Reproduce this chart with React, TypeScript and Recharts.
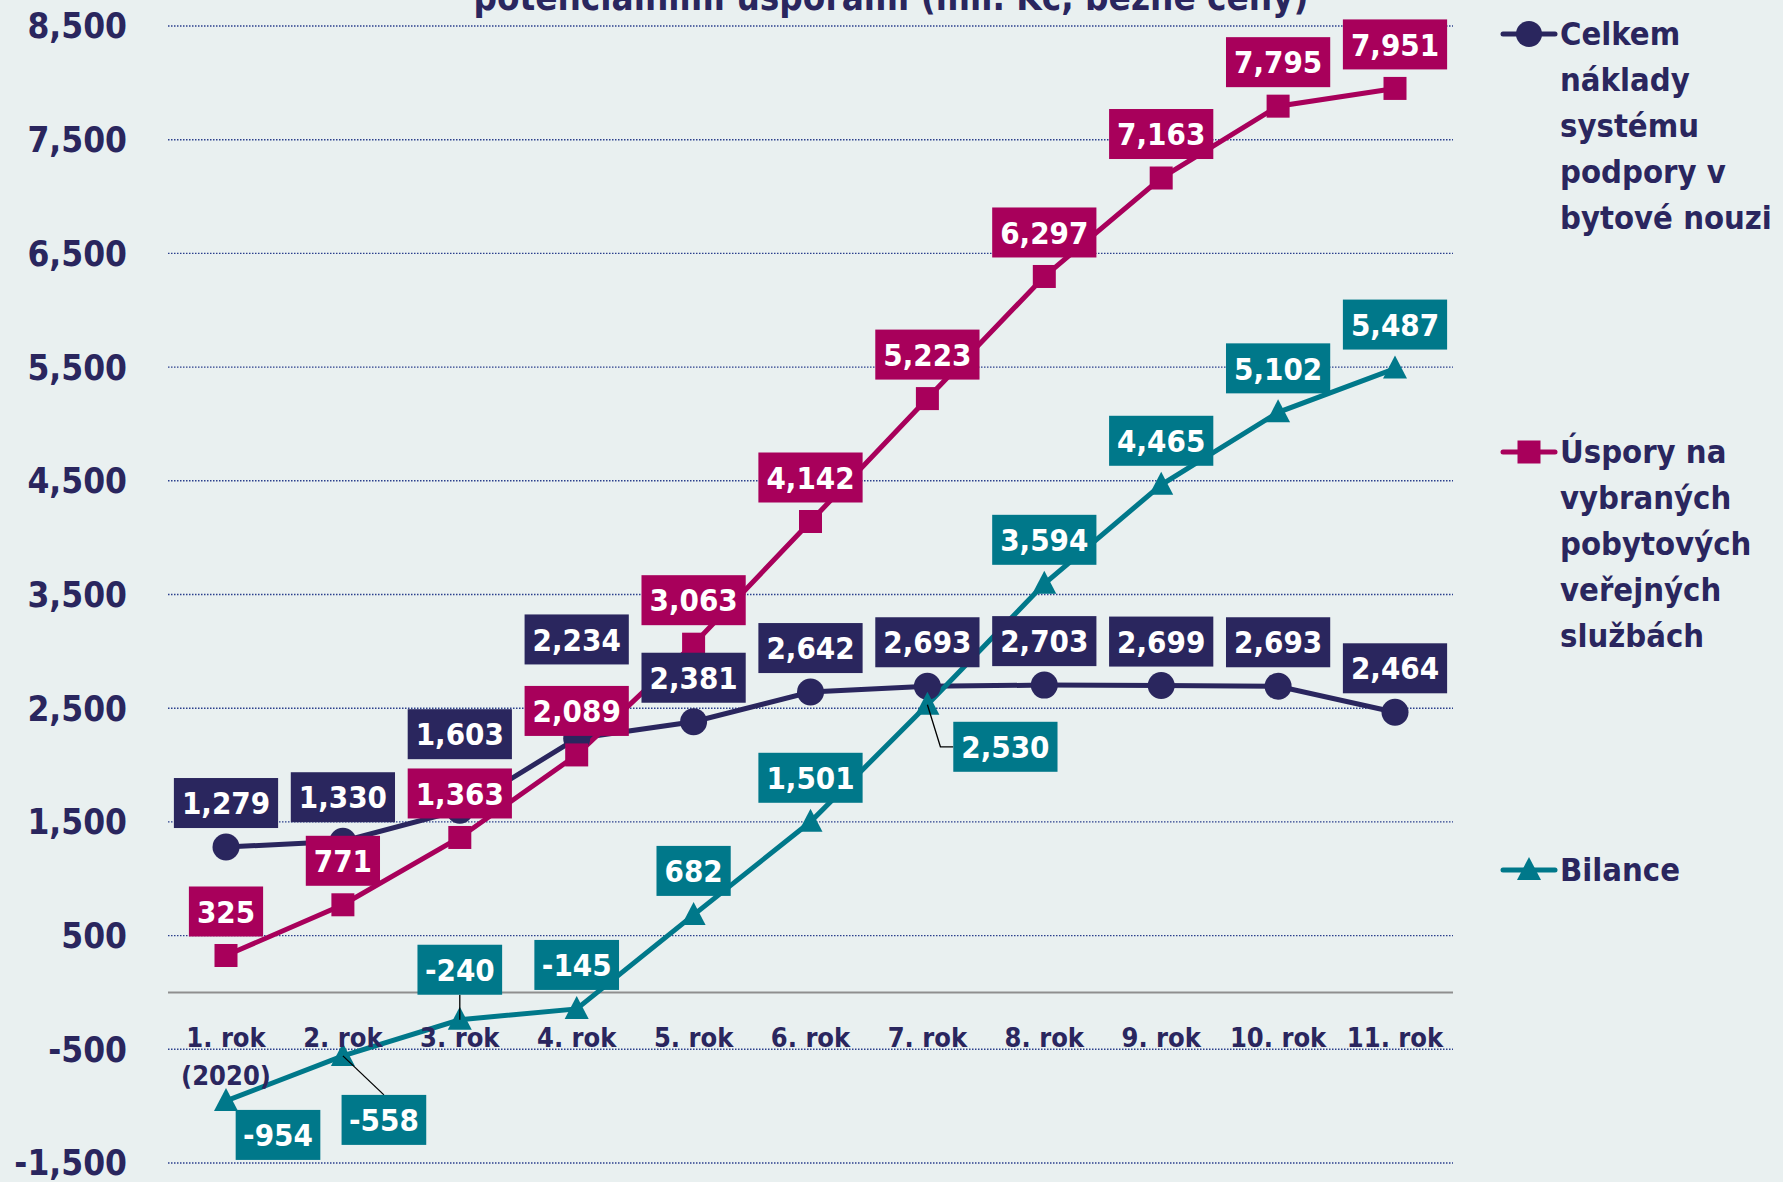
import { CartesianGrid, LabelList, Legend, Line, LineChart, ReferenceLine, XAxis, YAxis } from "recharts";

const years = ["1. rok", "2. rok", "3. rok", "4. rok", "5. rok", "6. rok", "7. rok", "8. rok", "9. rok", "10. rok", "11. rok"];
const firstYearNote = "(2020)";
const celkem = [1279, 1330, 1603, 2234, 2381, 2642, 2693, 2703, 2699, 2693, 2464];
const uspory = [325, 771, 1363, 2089, 3063, 4142, 5223, 6297, 7163, 7795, 7951];
const bilance = [-954, -558, -240, -145, 682, 1501, 2530, 3594, 4465, 5102, 5487];
const yTicks = [-1500, -500, 500, 1500, 2500, 3500, 4500, 5500, 6500, 7500, 8500];
const seriesNames = [
  "Celkem\nnáklady\nsystému\npodpory v\nbytové nouzi",
  "Úspory na\nvybraných\npobytových\nveřejných\nslužbách",
  "Bilance",
];
const title = "potenciálními úsporami (mil. Kč, běžné ceny)";

const data = years.map((year, i) => ({ year, celkem: celkem[i], uspory: uspory[i], bilance: bilance[i] }));

const W = 1783;
const H = 1182;
const PLOT_TOP = 26;
const PLOT_BOTTOM = 1163;
const Y_MIN = -1500;
const Y_MAX = 8500;
const ZERO_Y = PLOT_TOP + ((PLOT_BOTTOM - PLOT_TOP) * Y_MAX) / (Y_MAX - Y_MIN);

const NAVY = "#2a265e";
const MAGENTA = "#a8005b";
const TEAL = "#00788a";
const BG = "#e9f0f0";
const FONT = "'DejaVu Sans Condensed', 'DejaVu Sans', sans-serif";

type Shift = { dx: number; dy: number; leader?: "straight" | "elbow" };
const UP: Shift = { dx: 0, dy: -44 };
const celkemShift: Shift[] = [UP, UP, { dx: 0, dy: -76 }, { dx: 0, dy: -99 }, UP, UP, UP, UP, UP, UP, UP];
const usporyShift: Shift[] = [UP, UP, UP, UP, UP, UP, UP, UP, UP, UP, UP];
const bilanceShift: Shift[] = [
  { dx: 52, dy: 34 },
  { dx: 41, dy: 64, leader: "straight" },
  { dx: 0, dy: -50, leader: "straight" },
  UP,
  UP,
  UP,
  { dx: 78, dy: 42, leader: "elbow" },
  UP,
  UP,
  UP,
  UP,
];

const fmt = (v: number) => v.toLocaleString("en-US");

const LABEL_FS = 31;
function textWidth(s: string) {
  let w = 0;
  for (const ch of s) {
    if (ch === ",") w += 0.342;
    else if (ch === "-") w += 0.337;
    else w += 0.626;
  }
  return w * LABEL_FS;
}

function makeLabel(color: string, shifts: Shift[]) {
  return (props: any) => {
    const x = props.x ?? props.viewBox?.x;
    const y = props.y ?? props.viewBox?.y;
    const { value, index } = props;
    if (x == null || y == null) return null;
    const s = shifts[index] ?? UP;
    const text = fmt(Number(value));
    const w = textWidth(text) + 16;
    const h = 50;
    const cx = x + s.dx;
    const cy = y + s.dy;
    let leader = null;
    if (s.leader === "straight") {
      const ey = cy < y ? cy + h / 2 : cy - h / 2;
      leader = <line x1={x} y1={y} x2={cx} y2={ey} stroke="#000" strokeWidth={1.3} />;
    } else if (s.leader === "elbow") {
      leader = (
        <polyline
          points={`${x},${y} ${x + 13},${cy} ${cx - w / 2},${cy}`}
          fill="none"
          stroke="#000"
          strokeWidth={1.3}
        />
      );
    }
    return (
      <g key={`lbl-${index}`}>
        {leader}
        <rect x={cx - w / 2} y={cy - h / 2} width={w} height={h} fill={color} />
        <text
          x={cx}
          y={cy + LABEL_FS * 0.36}
          textAnchor="middle"
          fill="#fff"
          fontFamily={FONT}
          fontWeight="bold"
          fontSize={LABEL_FS}
        >
          {text}
        </text>
      </g>
    );
  };
}

const circleDot = (props: any) => <circle key={`c-${props.index}`} cx={props.cx} cy={props.cy} r={13.5} fill={NAVY} />;
const squareDot = (props: any) => (
  <rect key={`s-${props.index}`} x={props.cx - 11.5} y={props.cy - 11.5} width={23} height={23} fill={MAGENTA} />
);
const triangleDot = (props: any) => (
  <polygon
    key={`t-${props.index}`}
    points={`${props.cx},${props.cy - 13} ${props.cx - 12},${props.cy + 10} ${props.cx + 12},${props.cy + 10}`}
    fill={TEAL}
  />
);

function XTick(props: any) {
  const { x, payload, index } = props;
  return (
    <g>
      <text x={x} y={ZERO_Y + 55} textAnchor="middle" fill={NAVY} fontFamily={FONT} fontWeight="bold" fontSize={27}>
        {payload.value}
      </text>
      {index === 0 && (
        <text x={x} y={ZERO_Y + 93} textAnchor="middle" fill={NAVY} fontFamily={FONT} fontWeight="bold" fontSize={27}>
          {firstYearNote}
        </text>
      )}
    </g>
  );
}

const legendColors = [NAVY, MAGENTA, TEAL];
const legendTops = [34, 452, 870];

function LegendMarker({ i }: { i: number }) {
  const c = legendColors[i];
  return (
    <svg width={60} height={46} style={{ flex: "none" }}>
      <line x1={3} y1={23} x2={55} y2={23} stroke={c} strokeWidth={5} strokeLinecap="round" />
      {i === 0 && <circle cx={29} cy={23} r={13} fill={c} />}
      {i === 1 && <rect x={17.5} y={11.5} width={23} height={23} fill={c} />}
      {i === 2 && <polygon points="29,10 17,33 41,33" fill={c} />}
    </svg>
  );
}

function LegendContent() {
  return (
    <div style={{ position: "relative", width: 283, height: H }}>
      {seriesNames.map((name, i) => (
        <div key={name} style={{ position: "absolute", left: 0, top: legendTops[i] - 23, display: "flex" }}>
          <LegendMarker i={i} />
          <div
            style={{
              fontFamily: FONT,
              fontWeight: "bold",
              fontSize: 32.5,
              lineHeight: "46px",
              color: NAVY,
              whiteSpace: "pre",
            }}
          >
            {name}
          </div>
        </div>
      ))}
    </div>
  );
}

export default function App() {
  return (
    <div style={{ position: "fixed", left: 0, top: 0, width: W, height: H, background: BG, overflow: "hidden" }}>
      <svg width={W} height={40} style={{ position: "absolute", left: 0, top: 0 }}>
        <text x={891} y={10} textAnchor="middle" fill={NAVY} fontFamily={FONT} fontWeight="bold" fontSize={36.5}>
          {title}
        </text>
      </svg>
      <LineChart width={W} height={H} data={data} margin={{ top: PLOT_TOP, right: 330, bottom: 0, left: 0 }}>
        <CartesianGrid vertical={false} stroke="#2b3f8c" strokeDasharray="1.5 1.5" strokeWidth={1.4} />
        <XAxis
          dataKey="year"
          height={H - PLOT_BOTTOM}
          axisLine={false}
          tickLine={false}
          tick={<XTick />}
          interval={0}
          padding={{ left: 58, right: 58 }}
        />
        <YAxis
          domain={[Y_MIN, Y_MAX]}
          ticks={yTicks}
          width={168}
          axisLine={false}
          tickLine={false}
          tickSize={0}
          tickMargin={41}
          tickFormatter={fmt}
          tick={{ fill: NAVY, fontFamily: FONT, fontWeight: "bold", fontSize: 35 }}
          interval={0}
        />
        <ReferenceLine y={0} stroke="#8f8f8f" strokeWidth={2} />
        <Line dataKey="celkem" stroke={NAVY} strokeWidth={5} dot={circleDot} activeDot={false} isAnimationActive={false} />
        <Line dataKey="uspory" stroke={MAGENTA} strokeWidth={5} dot={squareDot} activeDot={false} isAnimationActive={false} />
        <Line dataKey="bilance" stroke={TEAL} strokeWidth={5} dot={triangleDot} activeDot={false} isAnimationActive={false} />
        <Line dataKey="celkem" stroke="none" dot={false} activeDot={false} legendType="none" isAnimationActive={false}>
          <LabelList dataKey="celkem" content={makeLabel(NAVY, celkemShift)} />
        </Line>
        <Line dataKey="uspory" stroke="none" dot={false} activeDot={false} legendType="none" isAnimationActive={false}>
          <LabelList dataKey="uspory" content={makeLabel(MAGENTA, usporyShift)} />
        </Line>
        <Line dataKey="bilance" stroke="none" dot={false} activeDot={false} legendType="none" isAnimationActive={false}>
          <LabelList dataKey="bilance" content={makeLabel(TEAL, bilanceShift)} />
        </Line>
        <Legend
          layout="horizontal"
          align="center"
          verticalAlign="middle"
          content={<LegendContent />}
          wrapperStyle={{ left: 1500, top: 0, width: 283, height: H }}
        />
      </LineChart>
    </div>
  );
}
